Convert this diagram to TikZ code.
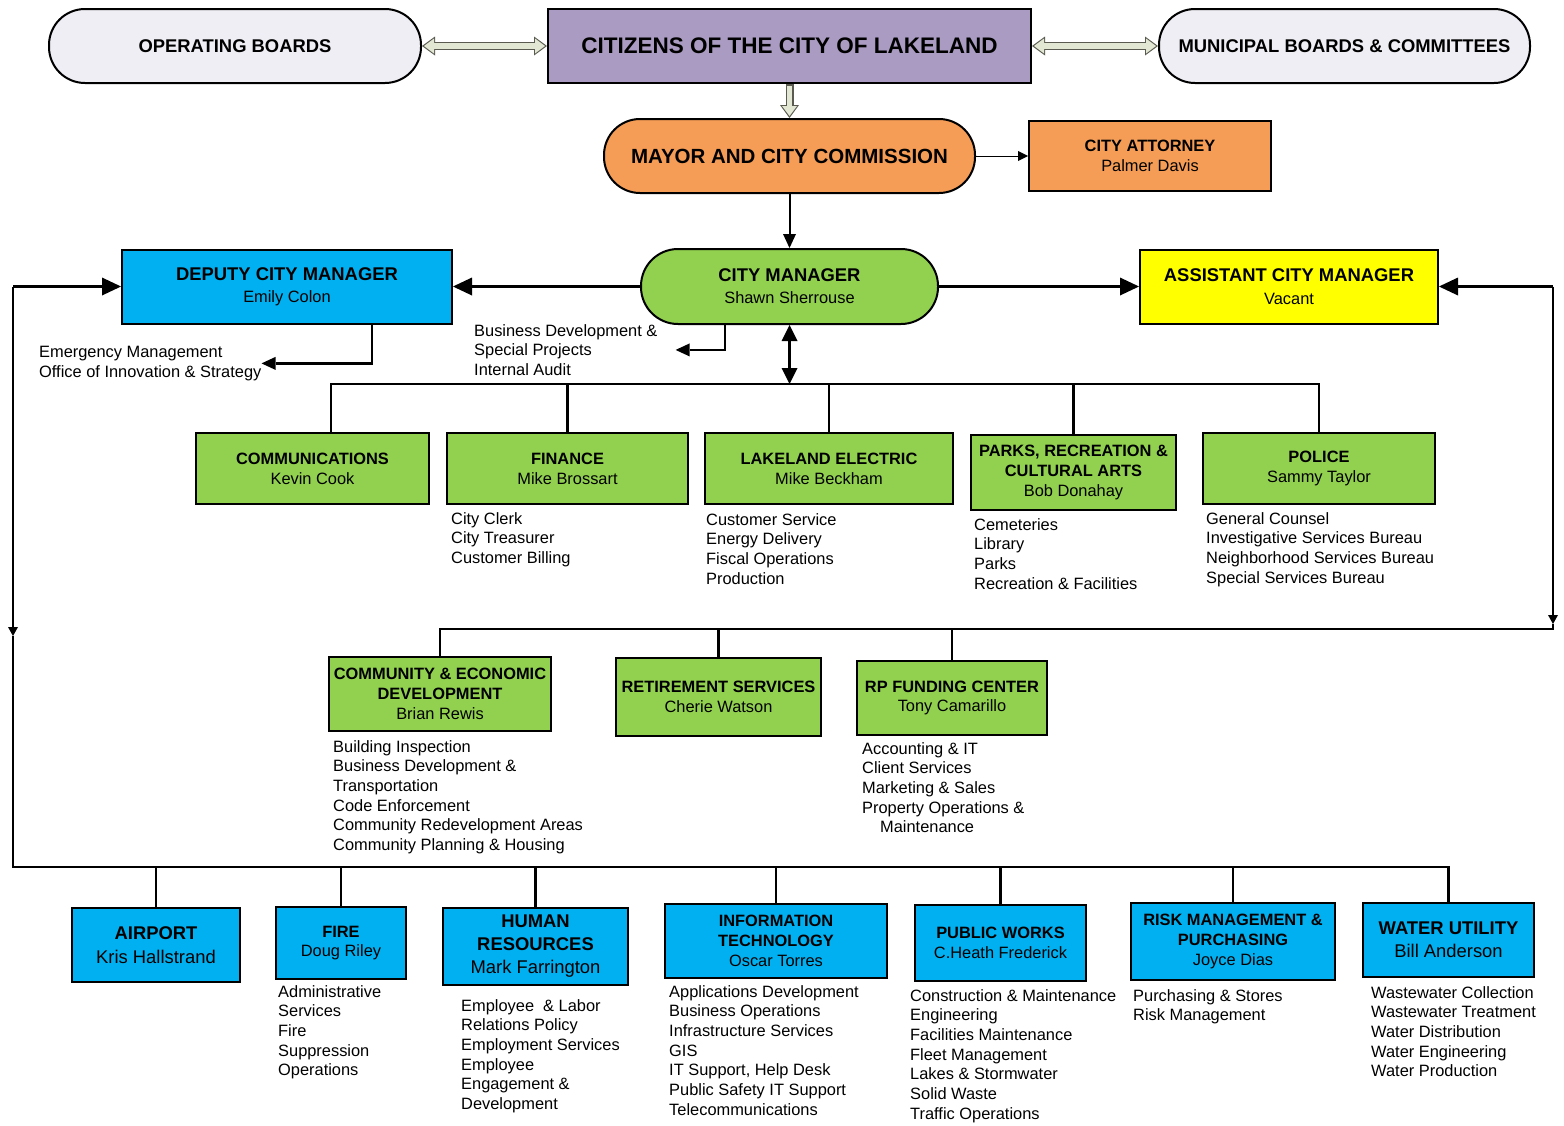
\documentclass[tikz,border=0pt]{standalone}
\usepackage{fontspec}
\setmainfont{Liberation Sans}
\usetikzlibrary{arrows.meta,positioning}
\definecolor{boardfill}{HTML}{EFEEF4}
\definecolor{citizenfill}{HTML}{A99BC1}
\definecolor{mayorfill}{HTML}{F59D56}
\definecolor{deptgreen}{HTML}{92D050}
\definecolor{deptblue}{HTML}{00B0F0}
\definecolor{asstyellow}{HTML}{FFFF00}
\definecolor{hollowfill}{HTML}{E2E7D4}
\definecolor{hollowedge}{HTML}{5A5A50}
\newcommand{\bighead}[1]{{\fontsize{18.4}{22}\selectfont\bfseries #1}}

\begin{document}
\begin{tikzpicture}[x=1pt,y=-1pt,
  board node/.style={rectangle, draw, line width=2pt, fill=boardfill,
    rounded corners=36pt, minimum width=372pt, minimum height=74pt,
    font=\fontsize{18.4}{22}\selectfont\bfseries},
  box node/.style={rectangle, draw, line width=2pt, align=center,
    inner sep=1pt, font=\fontsize{16.4}{19.8}\selectfont},
  green node/.style={box node, fill=deptgreen},
  blue node/.style={box node, fill=deptblue},
  list node/.style={anchor=north west, align=left, inner sep=0pt,
    font=\fontsize{16.4}{19.7}\selectfont},
  link/.style={line width=2.6pt},
  big tip/.style={link, -{Triangle[length=19pt,width=18pt,line width=0pt]}},
  small tip/.style={link, -{Triangle[length=14pt,width=13pt,line width=0pt]}},
  mini tip/.style={link, -{Triangle[length=9pt,width=10pt,line width=0pt]}},
  hollow out/.style={line width=8pt, draw=hollowedge,
    >={Triangle[length=13pt,width=19pt,line width=0pt]}},
  hollow in/.style={line width=5.6pt, draw=hollowfill, shorten <=2pt, shorten >=2pt,
    >={Triangle[length=10pt,width=15pt,line width=0pt]}}
  ]
\useasboundingbox (0,0) rectangle (1564,1125);

\node[board node] (1) at (235,46) {OPERATING BOARDS};
\node[box node, fill=citizenfill, minimum width=483pt, minimum height=74pt,
  font=\fontsize{22.5}{26}\selectfont\bfseries] (2) at (789.5,46)
  {CITIZENS OF THE CITY OF LAKELAND};
\node[board node, minimum width=371pt] (3) at (1344.5,46) {MUNICIPAL BOARDS \& COMMITTEES};
\node[board node, fill=mayorfill, minimum width=371pt,
  font=\fontsize{20.5}{24}\selectfont\bfseries] (4) at (789.5,156)
  {MAYOR AND CITY COMMISSION};
\node[box node, fill=mayorfill, minimum width=242pt, minimum height=70pt] (5) at (1150,156)
  {\textbf{CITY ATTORNEY}\\Palmer Davis};
\node[green node, rounded corners=37pt, minimum width=297pt, minimum height=75pt,
  font=\fontsize{16.4}{22}\selectfont] (6) at (789.5,286.5)
  {\bighead{CITY MANAGER}\\Shawn Sherrouse};
\node[blue node, minimum width=330pt, minimum height=74pt,
  font=\fontsize{16.4}{22}\selectfont] (7) at (287,286.5)
  {\bighead{DEPUTY CITY MANAGER}\\Emily Colon};
\node[box node, fill=asstyellow, minimum width=298pt, minimum height=74pt,
  font=\fontsize{16.4}{22.5}\selectfont] (8) at (1289,286.5)
  {\bighead{ASSISTANT CITY MANAGER}\\Vacant};

\node[list node] (l7) at (39,346) {Emergency Management\\Office of Innovation \& Strategy};
\node[list node] (l6) at (474,324) {Business Development \&\\Special Projects\\Internal Audit};

\node[green node, minimum width=233pt, minimum height=71pt] (9) at (312.5,468.5)
  {\textbf{COMMUNICATIONS}\\Kevin Cook};
\node[green node, minimum width=241pt, minimum height=71pt] (10) at (567.5,468.5)
  {\textbf{FINANCE}\\Mike Brossart};
\node[green node, minimum width=248pt, minimum height=71pt] (11) at (829,468.5)
  {\textbf{LAKELAND ELECTRIC}\\Mike Beckham};
\node[green node, minimum width=205pt, minimum height=75pt] (12) at (1073.5,472.5)
  {\textbf{PARKS, RECREATION \&}\\\textbf{CULTURAL ARTS}\\Bob Donahay};
\node[green node, minimum width=232pt, minimum height=71pt] (13) at (1319,468.5)
  {\textbf{POLICE}\\Sammy Taylor};

\node[list node] (l10) at (451,512) {City Clerk\\City Treasurer\\Customer Billing};
\node[list node] (l11) at (706,513) {Customer Service\\Energy Delivery\\Fiscal Operations\\Production};
\node[list node] (l12) at (974,518) {Cemeteries\\Library\\Parks\\Recreation \& Facilities};
\node[list node] (l13) at (1206,512) {General Counsel\\Investigative Services Bureau\\
  Neighborhood Services Bureau\\Special Services Bureau};

\node[green node, minimum width=222pt, minimum height=74pt] (14) at (440,694)
  {\textbf{COMMUNITY \& ECONOMIC}\\\textbf{DEVELOPMENT}\\Brian Rewis};
\node[green node, minimum width=205pt, minimum height=78pt] (15) at (718.5,697)
  {\textbf{RETIREMENT SERVICES}\\Cherie Watson};
\node[green node, minimum width=190pt, minimum height=74pt] (16) at (952,698)
  {\textbf{RP FUNDING CENTER}\\Tony Camarillo};

\node[list node] (l14) at (333,740) {Building Inspection\\Business Development \&\\
  Transportation\\Code Enforcement\\Community Redevelopment Areas\\Community Planning \& Housing};
\node[list node] (l16) at (862,742) {Accounting \& IT\\Client Services\\Marketing \& Sales\\
  Property Operations \&\\\hspace*{18pt}Maintenance};

\node[blue node, minimum width=168pt, minimum height=74pt,
  font=\fontsize{18.4}{24}\selectfont] (17) at (156,945)
  {\textbf{AIRPORT}\\Kris Hallstrand};
\node[blue node, minimum width=130pt, minimum height=72pt] (18) at (341,943)
  {\textbf{FIRE}\\Doug Riley};
\node[blue node, minimum width=185pt, minimum height=77pt,
  font=\fontsize{18.4}{23}\selectfont] (19) at (535.5,946.5)
  {\textbf{HUMAN}\\\textbf{RESOURCES}\\Mark Farrington};
\node[blue node, minimum width=222pt, minimum height=74pt,
  font=\fontsize{16.4}{19.7}\selectfont] (20) at (776,941)
  {\textbf{INFORMATION}\\\textbf{TECHNOLOGY}\\Oscar Torres};
\node[blue node, minimum width=171pt, minimum height=76pt] (21) at (1000.5,943)
  {\textbf{PUBLIC WORKS}\\C.Heath Frederick};
\node[blue node, minimum width=204pt, minimum height=77pt] (22) at (1233,941.5)
  {\textbf{RISK MANAGEMENT \&}\\\textbf{PURCHASING}\\Joyce Dias};
\node[blue node, minimum width=171pt, minimum height=74pt,
  font=\fontsize{18.4}{23}\selectfont] (23) at (1448.5,940)
  {\textbf{WATER UTILITY}\\Bill Anderson};

\node[list node] (l18) at (278,985) {Administrative\\Services\\Fire\\Suppression\\Operations};
\node[list node] (l19) at (461,999) {Employee~ \& Labor\\Relations Policy\\Employment Services\\
  Employee\\Engagement \&\\Development};
\node[list node] (l20) at (669,985) {Applications Development\\Business Operations\\
  Infrastructure Services\\GIS\\IT Support, Help Desk\\Public Safety IT Support\\Telecommunications};
\node[list node] (l21) at (910,989) {Construction \& Maintenance\\Engineering\\Facilities Maintenance\\
  Fleet Management\\Lakes \& Stormwater\\Solid Waste\\Traffic Operations};
\node[list node] (l22) at (1133,989) {Purchasing \& Stores\\Risk Management};
\node[list node] (l23) at (1371,986) {Wastewater Collection\\Wastewater Treatment\\
  Water Distribution\\Water Engineering\\Water Production};

\coordinate (b1) at (789.5,384);
\coordinate (c1) at (1553,286.5);
\coordinate (c2) at (1553,624);
\coordinate (c3) at (1553,629);
\coordinate (c4) at (13,286.5);
\coordinate (c5) at (13,636);
\coordinate (c6) at (13,867);

\path
(1) edge[hollow out, <->] (2)
(2) edge[hollow out, <->] (3)
(2) edge[hollow out, ->] (4)
(1) edge[hollow in, <->] (2)
(2) edge[hollow in, <->] (3)
(2) edge[hollow in, ->] (4);

\path
(4) edge[line width=1pt, -{Triangle[length=10pt,width=10pt,line width=0pt]}] (5)
(4) edge[small tip, line width=2pt] (6)
(6) edge[big tip] (7)
(6) edge[big tip] (8)
(c4) edge[big tip] (7)
(c1) edge[big tip] (8)
(c1) edge[mini tip] (c2)
(c4) edge[mini tip] (c5)
(6) edge[link, {Triangle[length=16pt,width=16pt,line width=0pt]}-{Triangle[length=16pt,width=16pt,line width=0pt]}] (b1);

\draw[small tip] ([xshift=85pt]7.south) |- (l7);
\draw[small tip, shorten >=18pt] ([xshift=-64.5pt]6.south) |- (l6);

\draw[link] (b1) -| ([xshift=18.5pt]9.north);
\foreach \n in {10,11,12,13}
  \draw[link] (b1) -| (\n);

\draw[link] (c2) -- (c3) -| (14);
\foreach \n in {15,16}
  \draw[link] (c3) -| (\n);

\draw[link] (c5) -- (c6) -| (17);
\foreach \n in {18,...,23}
  \draw[link] (c6) -| (\n);
\end{tikzpicture}
\end{document}
